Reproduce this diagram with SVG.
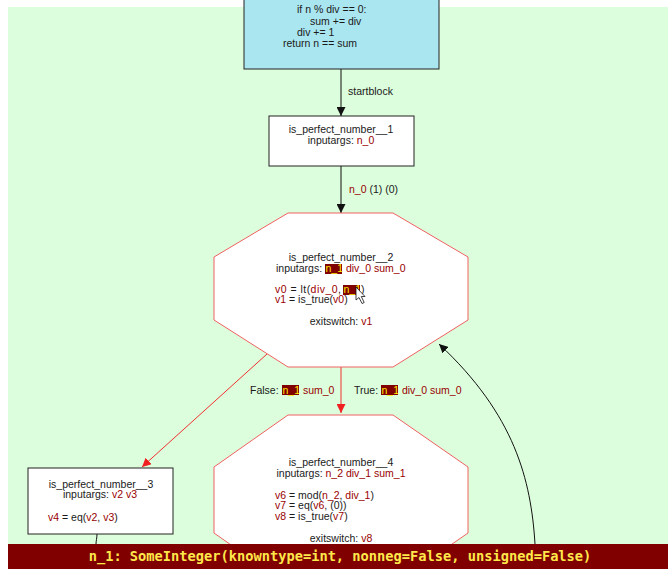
<svg xmlns="http://www.w3.org/2000/svg" width="668" height="569" viewBox="0 0 668 569">
  <style>
    text { font-family: "Liberation Sans", Arial, sans-serif; font-size: 10.5px; fill: #1a1a1a; }
    .c { text-anchor: middle; }
    .v { fill: #990000; }
    .hl { fill: #ffe800; }
    .hbg { fill: #800000; }
    .box { fill: #ffffff; stroke: #222222; stroke-width: 1; }
    .oct { fill: #ffffff; stroke: #f06060; stroke-width: 1; }
    .edge { fill: none; stroke: #111111; stroke-width: 1; }
    .redge { fill: none; stroke: #f03030; stroke-width: 1; }
    .status { font-family: "DejaVu Sans Mono", monospace; font-size: 13.7px; fill: #ffe84a; font-weight: bold; }
  </style>
  <defs>
    <marker id="ah" viewBox="0 0 10 10" refX="10" refY="5" markerWidth="9" markerHeight="9" markerUnits="userSpaceOnUse" orient="auto">
      <path d="M0,0 L10,5 L0,10 z" fill="#111111"/>
    </marker>
    <marker id="ahr" viewBox="0 0 10 10" refX="10" refY="5" markerWidth="9" markerHeight="9" markerUnits="userSpaceOnUse" orient="auto">
      <path d="M0,0 L10,5 L0,10 z" fill="#f02020"/>
    </marker>
  </defs>

  <!-- canvas -->
  <rect x="0" y="0" width="668" height="569" fill="#ffffff"/>
  <rect x="8" y="7" width="660" height="562" fill="#ddfedd"/>

  <!-- connectors -->
  <g id="edges">
    <line class="edge" x1="341" y1="69" x2="341" y2="116" marker-end="url(#ah)"/>
    <text x="348" y="95">startblock</text>

    <line class="edge" x1="341" y1="166" x2="341" y2="213" marker-end="url(#ah)"/>
    <text x="349" y="193"><tspan class="v">n_0</tspan> (1) (0)</text>

    <line class="redge" x1="267" y1="354" x2="142" y2="467" marker-end="url(#ahr)"/>
    <rect class="hbg" x="282" y="385" width="17" height="10"/>
    <text x="250" y="394">False: <tspan class="hl" x="282.5">n_1</tspan><tspan class="v"> sum_0</tspan></text>

    <line class="redge" x1="341" y1="367" x2="341" y2="413" marker-end="url(#ahr)"/>
    <rect class="hbg" x="381" y="385" width="17" height="10"/>
    <text x="354" y="394">True: <tspan class="hl" x="381.5">n_1</tspan><tspan class="v"> div_0 sum_0</tspan></text>

    <path class="edge" d="M535,544 C531,480 515,415 439,344" marker-end="url(#ah)"/>
    <path class="edge" d="M97,534 C97,538 96,541 96,544"/>
  </g>

  <!-- start block (source code) -->
  <g id="source">
    <rect x="244" y="-2" width="195" height="71" fill="#aae6f0" stroke="#222222" stroke-width="1"/>
    <text x="297" y="13">if n % div == 0:</text>
    <text x="310" y="25">sum += div</text>
    <text x="297" y="36">div += 1</text>
    <text x="283" y="47">return n == sum</text>
  </g>

  <g id="block1">
    <rect class="box" x="269" y="116" width="145" height="50"/>
    <text class="c" x="341" y="133">is_perfect_number__1</text>
    <text class="c" x="341" y="144">inputargs: <tspan class="v">n_0</tspan></text>
  </g>

  <g id="block2">
    <polygon class="oct" points="288,213 393,213 468,257 468,320 393,367 288,367 214,320 214,257"/>
    <text class="c" x="341" y="261">is_perfect_number__2</text>
    <rect class="hbg" x="325" y="264" width="17" height="10"/>
    <text x="276" y="272">inputargs: <tspan class="hl" x="325.5">n_1</tspan><tspan class="v"> div_0 sum_0</tspan></text>
    <rect class="hbg" x="343" y="285" width="17" height="10"/>
    <text x="275" y="293" textLength="66" lengthAdjust="spacing"><tspan class="v">v0</tspan> = lt(<tspan class="v">div_0</tspan>, </text>
    <text x="343.5" y="293"><tspan class="hl">n_1</tspan>)</text>
    <text x="275" y="303"><tspan class="v">v1</tspan> = is_true(<tspan class="v">v0</tspan>)</text>
    <text class="c" x="341" y="325">exitswitch: <tspan class="v">v1</tspan></text>
    <!-- pointer -->
    <polygon points="356,287 356,300 359,297.5 362,303.5 364.2,302.5 361.3,296.5 365,296.5" fill="#ffffff" stroke="#111111" stroke-width="0.8"/>
  </g>

  <g id="block3">
    <rect class="box" x="28" y="468" width="145" height="66"/>
    <text class="c" x="101" y="488">is_perfect_number__3</text>
    <text class="c" x="100" y="498">inputargs: <tspan class="v">v2 v3</tspan></text>
    <text x="48" y="521"><tspan class="v">v4</tspan> = eq(<tspan class="v">v2</tspan>, <tspan class="v">v3</tspan>)</text>
  </g>

  <g id="block4">
    <polygon class="oct" points="288,415 393,415 468,467 468,533 393,585 288,585 214,533 214,467"/>
    <text class="c" x="341" y="466">is_perfect_number__4</text>
    <text class="c" x="341" y="477">inputargs: <tspan class="v">n_2 div_1 sum_1</tspan></text>
    <text x="275" y="499"><tspan class="v">v6</tspan> = mod(<tspan class="v">n_2</tspan>, <tspan class="v">div_1</tspan>)</text>
    <text x="275" y="509"><tspan class="v">v7</tspan> = eq(<tspan class="v">v6</tspan>, (0))</text>
    <text x="275" y="520"><tspan class="v">v8</tspan> = is_true(<tspan class="v">v7</tspan>)</text>
    <text class="c" x="341" y="542">exitswitch: <tspan class="v">v8</tspan></text>
  </g>

  <!-- status line -->
  <g id="statusbar">
    <rect x="8" y="544" width="660" height="25" fill="#800000"/>
    <text class="status c" x="340" y="561">n_1: SomeInteger(knowntype=int, nonneg=False, unsigned=False)</text>
  </g>
</svg>
